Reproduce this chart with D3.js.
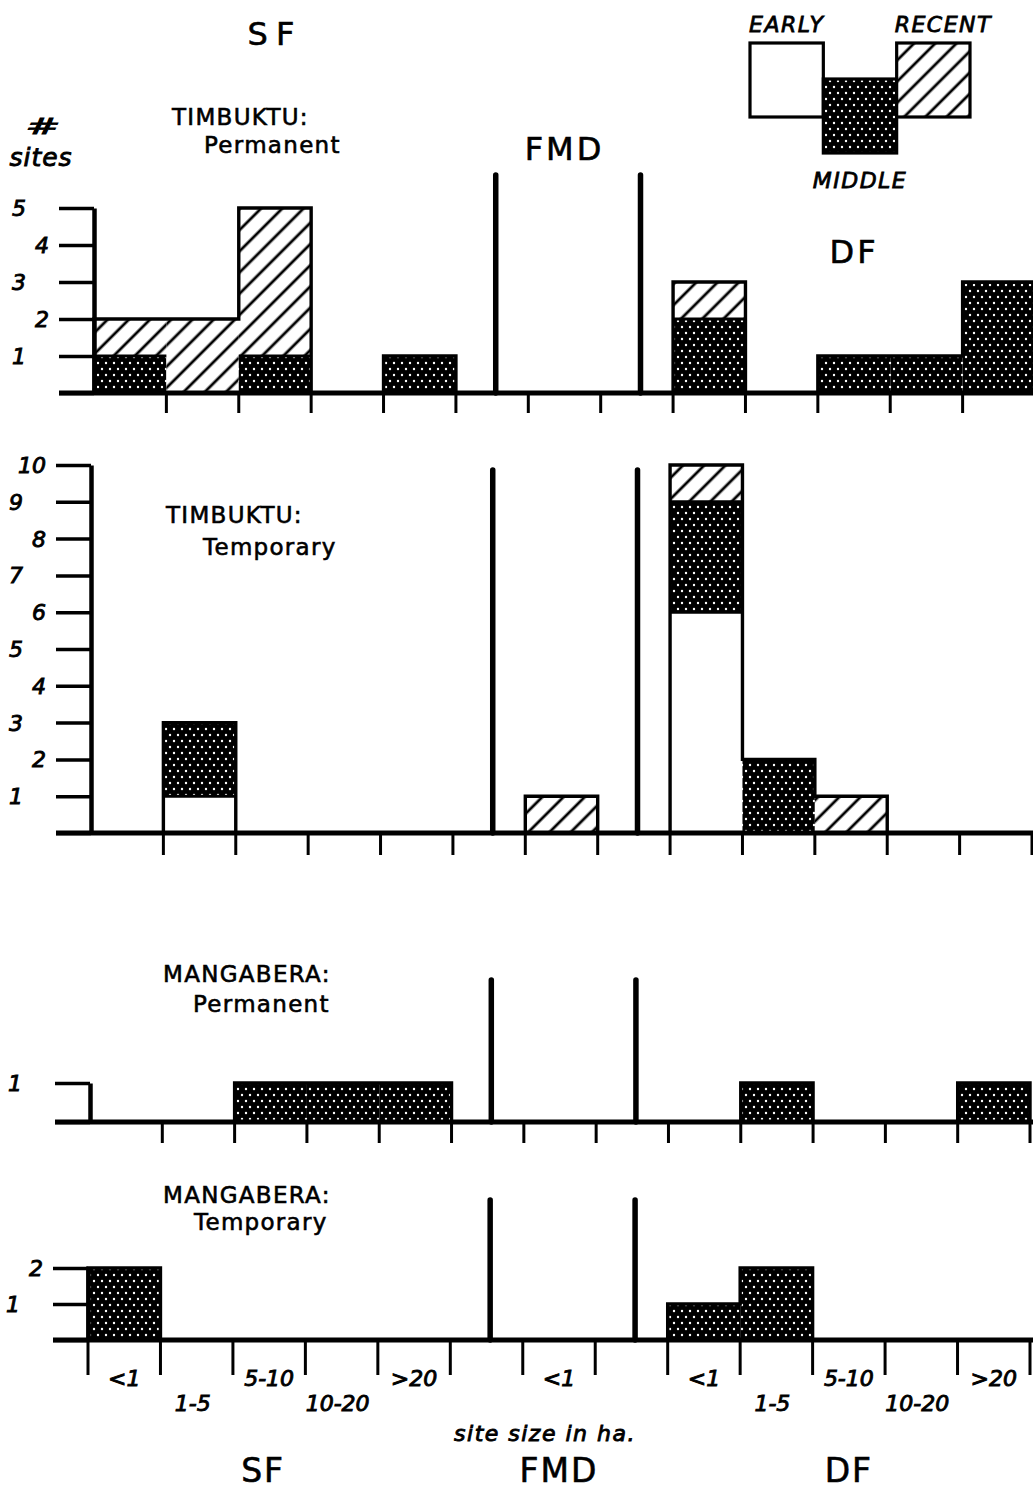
<!DOCTYPE html>
<meta charset="utf-8">
<style>
  body { margin: 0; background: #fff; }
  svg { display: block; font-family: "DejaVu Sans", sans-serif; }
  svg text { fill: #000; stroke: #000; stroke-width: 0.6; }
  .it { font-style: italic; }
</style>
<svg width="1033" height="1499"></svg>
<script src="https://d3js.org/d3.v7.min.js"></script>
<script>

var sizeClasses = ["<1", "1-5", "5-10", "10-20", ">20"];
var zoneNames = ["SF", "FMD", "DF"];
var periods = ["EARLY", "MIDDLE", "RECENT"];

// 13 slots on the x axis: 5 SF classes, gap, FMD <1, gap, 5 DF classes
var slots = sizeClasses.map(function(c) { return "SF " + c; })
  .concat(["gap1", "FMD <1", "gap2"])
  .concat(sizeClasses.map(function(c) { return "DF " + c; }));
var slotLabels = sizeClasses.concat(["", "<1", ""]).concat(sizeClasses);

// number of sites per slot
var timbPermEarly  = [0, 0, 0, 0, 0,  0, 0, 0,  0, 0, 0, 0, 0];
var timbPermMiddle = [1, 0, 1, 0, 1,  0, 0, 0,  2, 0, 1, 1, 3];
var timbPermRecent = [1, 2, 4, 0, 0,  0, 0, 0,  1, 0, 0, 0, 0];

var timbTempEarly  = [0, 1, 0, 0, 0,  0, 0, 0,  6, 0, 0, 0, 0];
var timbTempMiddle = [0, 2, 0, 0, 0,  0, 0, 0,  3, 2, 0, 0, 0];
var timbTempRecent = [0, 0, 0, 0, 0,  0, 1, 0,  1, 0, 1, 0, 0];

var mangPermEarly  = [0, 0, 0, 0, 0,  0, 0, 0,  0, 0, 0, 0, 0];
var mangPermMiddle = [0, 0, 1, 1, 1,  0, 0, 0,  0, 1, 0, 0, 1];
var mangPermRecent = [0, 0, 0, 0, 0,  0, 0, 0,  0, 0, 0, 0, 0];

var mangTempEarly  = [0, 0, 0, 0, 0,  0, 0, 0,  0, 0, 0, 0, 0];
var mangTempMiddle = [2, 0, 0, 0, 0,  0, 0, 0,  1, 2, 0, 0, 0];
var mangTempRecent = [0, 0, 0, 0, 0,  0, 0, 0,  0, 0, 0, 0, 0];

var panels = [
  {title: ["TIMBUKTU:", "Permanent"], values: [timbPermEarly, timbPermMiddle, timbPermRecent], yMax: 5,
   x0: 94, x1: 1035, base: 393, top: 208, fmdTop: 175, tick: 20, tx: [172, 204], ty: [125, 153]},
  {title: ["TIMBUKTU:", "Temporary"], values: [timbTempEarly, timbTempMiddle, timbTempRecent], yMax: 10,
   x0: 91, x1: 1032, base: 833, top: 465, fmdTop: 470, tick: 22, tx: [166, 203], ty: [523, 555]},
  {title: ["MANGABERA:", "Permanent"], values: [mangPermEarly, mangPermMiddle, mangPermRecent], yMax: 1,
   x0: 90, x1: 1030, base: 1122, top: 1083, fmdTop: 980, tick: 21, tx: [163, 193], ty: [982, 1012]},
  {title: ["MANGABERA:", "Temporary"], values: [mangTempEarly, mangTempMiddle, mangTempRecent], yMax: 2,
   x0: 88, x1: 1030, base: 1340, top: 1268, fmdTop: 1200, tick: 35, tx: [163, 194], ty: [1203, 1230], first: true}
];

var svg = d3.select("svg");
var defs = svg.append("defs");

// stipple for MIDDLE
var dots = defs.append("pattern").attr("id", "dots")
    .attr("patternUnits", "userSpaceOnUse").attr("width", 8).attr("height", 12);
dots.append("rect").attr("width", 8).attr("height", 12).attr("fill", "#000");
dots.append("circle").attr("cx", 2).attr("cy", 3).attr("r", 1.2).attr("fill", "#fff");
dots.append("circle").attr("cx", 6).attr("cy", 9).attr("r", 1.2).attr("fill", "#fff");

// hatching for RECENT
var hatch = defs.append("pattern").attr("id", "hatch")
    .attr("patternUnits", "userSpaceOnUse").attr("width", 15).attr("height", 15)
    .attr("patternTransform", "rotate(45)");
hatch.append("rect").attr("width", 15).attr("height", 15).attr("fill", "#fff");
hatch.append("line").attr("x1", 2).attr("x2", 2).attr("y1", 0).attr("y2", 15)
    .attr("stroke", "#000").attr("stroke-width", 2.8);

var fills = {EARLY: "#fff", MIDDLE: "url(#dots)", RECENT: "url(#hatch)"};

var scales = [];

panels.forEach(function(p) {
  var x = d3.scaleBand().domain(slots).range([p.x0, p.x1]);
  var y = d3.scaleLinear().domain([0, p.yMax]).range([p.base, p.top]);
  var bw = x.bandwidth();
  scales.push(x);
  var g = svg.append("g");

  // stacked segments
  var segs = [];
  slots.forEach(function(s, i) {
    var cum = 0;
    periods.forEach(function(per, k) {
      var v = p.values[k][i];
      if (v > 0) segs.push({slot: s, period: per, y0: cum, y1: cum + v});
      cum += v;
    });
  });

  g.selectAll("rect.seg").data(segs).join("rect")
      .attr("class", "seg")
      .attr("x", function(d) { return x(d.slot); })
      .attr("width", bw)
      .attr("y", function(d) { return y(d.y1); })
      .attr("height", function(d) { return y(d.y0) - y(d.y1); })
      .attr("fill", function(d) { return fills[d.period]; });

  g.selectAll("line.sep").data(segs.filter(function(d) { return d.y0 > 0; })).join("line")
      .attr("class", "sep")
      .attr("x1", function(d) { return x(d.slot); })
      .attr("x2", function(d) { return x(d.slot) + bw; })
      .attr("y1", function(d) { return y(d.y0); })
      .attr("y2", function(d) { return y(d.y0); })
      .attr("stroke", "#000").attr("stroke-width", 3);

  // outline of the histogram
  var totals = slots.map(function(s, i) { return d3.sum(p.values, function(v) { return v[i]; }); });
  var last = slots[slots.length - 1];
  var pts = [[x(slots[0]), 0]]
    .concat(slots.map(function(s, i) { return [x(s), totals[i]]; }))
    .concat([[x(last) + bw, totals[totals.length - 1]], [x(last) + bw, 0]]);
  g.append("path")
      .attr("d", d3.line().x(function(d) { return d[0]; }).y(function(d) { return y(d[1]); })
        .curve(d3.curveStepAfter)(pts))
      .attr("fill", "none").attr("stroke", "#000").attr("stroke-width", 3.4);

  // baseline
  g.append("line")
      .attr("x1", p.x0 - 35).attr("x2", 1033)
      .attr("y1", p.base).attr("y2", p.base)
      .attr("stroke", "#000").attr("stroke-width", 5);

  // x ticks at class boundaries
  var bounds = slots.map(function(s) { return x(s); }).concat([x(last) + bw]);
  if (!p.first) bounds = bounds.slice(1);
  g.selectAll("line.xt").data(bounds).join("line")
      .attr("class", "xt")
      .attr("x1", function(d) { return d; }).attr("x2", function(d) { return d; })
      .attr("y1", p.base).attr("y2", p.base + p.tick)
      .attr("stroke", "#000").attr("stroke-width", 3);

  // y axis
  var ticks = d3.range(0, p.yMax + 1);
  var ya = g.append("g").attr("transform", "translate(" + p.x0 + ",0)")
      .call(d3.axisLeft(y).tickValues(ticks).tickSize(35).tickSizeOuter(0).tickFormat(""));
  ya.select(".domain").attr("stroke-width", 4.5);
  ya.selectAll(".tick line").attr("stroke-width", 3.5);

  g.selectAll("text.yl").data(ticks.filter(function(v) { return v > 0; })).join("text")
      .attr("class", "yl it")
      .attr("x", function(v) { return p.x0 - (v % 2 ? 68 : 45); })
      .attr("y", function(v) { return y(v) + 8; })
      .attr("text-anchor", "end")
      .attr("font-size", 22)
      .style("stroke-width", 0.9)
      .text(function(v) { return v; });

  // FMD dividers
  g.selectAll("line.fmd").data(["gap1", "gap2"]).join("line")
      .attr("class", "fmd")
      .attr("x1", function(d) { return x(d) + bw * 0.55; })
      .attr("x2", function(d) { return x(d) + bw * 0.55; })
      .attr("y1", p.base).attr("y2", p.fmdTop)
      .attr("stroke", "#000").attr("stroke-width", 5.5).attr("stroke-linecap", "round");

  // panel title
  g.selectAll("text.ttl").data(p.title).join("text")
      .attr("class", "ttl")
      .attr("x", function(d, i) { return p.tx[i]; })
      .attr("y", function(d, i) { return p.ty[i]; })
      .attr("font-size", 23)
      .attr("letter-spacing", 1.3)
      .text(function(d) { return d; });
});

// class labels under the last panel
var xb = scales[3];
var lblData = slots.map(function(s, i) { return {slot: s, label: slotLabels[i], k: i < 5 ? i : (i > 7 ? i - 8 : 0)}; })
  .filter(function(d) { return d.label; });
svg.selectAll("text.xl").data(lblData).join("text")
    .attr("class", "xl it")
    .attr("x", function(d) { return xb(d.slot) + xb.bandwidth() / 2 - (d.k % 2 ? 4 : 0); })
    .attr("y", function(d) { return d.k % 2 ? 1411 : 1386; })
    .attr("text-anchor", "middle")
    .attr("font-size", 22)
    .style("stroke-width", 0.9)
    .text(function(d) { return d.label; });

svg.append("text").attr("class", "it")
    .attr("x", 545).attr("y", 1441)
    .attr("text-anchor", "middle").attr("font-size", 22).attr("letter-spacing", 1.5)
    .style("stroke-width", 0.9)
    .text("site size in ha.");

// zone names, bottom and top
var zoneSlots = ["SF 5-10", "FMD <1", "DF 5-10"];
svg.selectAll("text.zb").data(zoneNames).join("text")
    .attr("class", "zb")
    .attr("x", function(d, i) { return xb(zoneSlots[i]) + xb.bandwidth() / 2 - (i === 0 ? 6 : 0); })
    .attr("y", 1482)
    .attr("text-anchor", "middle").attr("font-size", 33).attr("letter-spacing", 2)
    .text(function(d) { return d; });

var xt = scales[0];
var zoneTopY = [45, 160, 263];
svg.selectAll("text.zt").data(zoneNames).join("text")
    .attr("class", "zt")
    .attr("x", function(d, i) { return xt(zoneSlots[i]) + xt.bandwidth() / 2; })
    .attr("y", function(d, i) { return zoneTopY[i]; })
    .attr("text-anchor", "middle").attr("font-size", 32)
    .attr("letter-spacing", function(d, i) { return i === 0 ? 8 : 3; })
    .text(function(d) { return d; });

// y axis title
svg.append("text").attr("class", "it")
    .attr("transform", "translate(43,134) scale(1.6,0.8)")
    .attr("text-anchor", "middle").attr("font-size", 26)
    .style("stroke-width", 1)
    .text("#");
svg.append("text").attr("class", "it")
    .attr("x", 41).attr("y", 166)
    .attr("text-anchor", "middle").attr("font-size", 25).attr("letter-spacing", 1)
    .style("stroke-width", 0.9)
    .text("sites");

// legend
var lx = d3.scaleBand().domain(periods).range([750, 970]);
var ly = {EARLY: 43, MIDDLE: 79, RECENT: 43};
var leg = svg.append("g");
leg.selectAll("rect").data(periods).join("rect")
    .attr("x", function(d) { return lx(d); })
    .attr("y", function(d) { return ly[d]; })
    .attr("width", lx.bandwidth()).attr("height", 74)
    .attr("fill", function(d) { return fills[d]; })
    .attr("stroke", "#000").attr("stroke-width", 3.2);
leg.selectAll("text").data(periods).join("text")
    .attr("class", "it")
    .attr("x", function(d) { return lx(d) + lx.bandwidth() / 2 + (d === "RECENT" ? 10 : 0); })
    .attr("y", function(d) { return d === "MIDDLE" ? 188 : 32; })
    .attr("text-anchor", "middle").attr("font-size", 22).attr("letter-spacing", 1.5)
    .style("stroke-width", 0.8)
    .text(function(d) { return d; });

</script>
